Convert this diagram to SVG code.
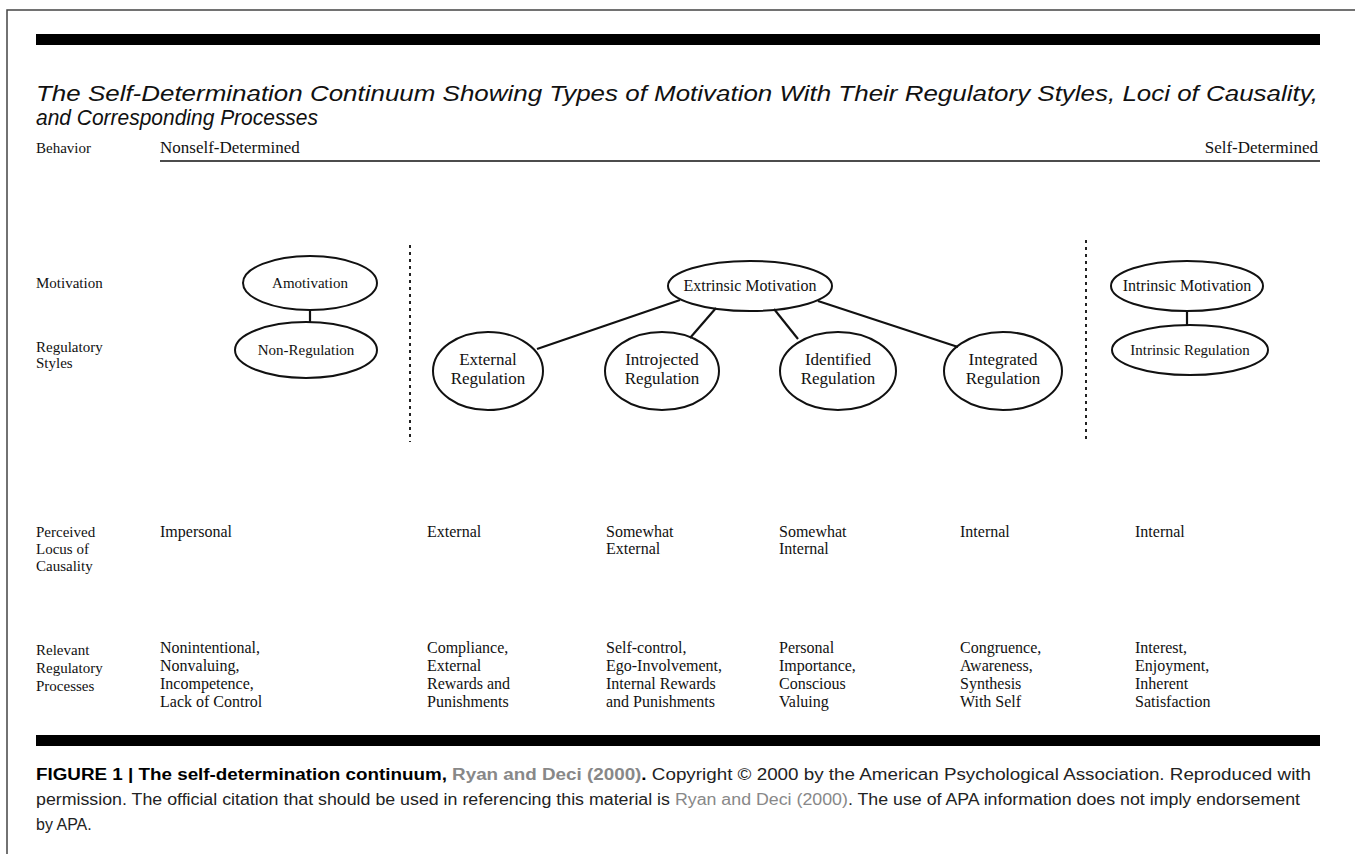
<svg xmlns="http://www.w3.org/2000/svg" width="1355" height="854" viewBox="0 0 1355 854">
<style>
.s{font-family:"Liberation Serif","Times New Roman",serif;font-size:16px;fill:#111}
.big{font-size:17px}
.lab{font-family:"Liberation Serif","Times New Roman",serif;font-size:15px;fill:#111}
.e{font-family:"Liberation Serif","Times New Roman",serif;font-size:15px;fill:#111;text-anchor:middle}
.e16{font-size:16px}
.e2{font-size:17px}
.node ellipse{fill:none;stroke:#111;stroke-width:2}
.conn line{stroke:#111;stroke-width:2.2}
.dash{stroke:#222;stroke-width:2;stroke-dasharray:3 4}
.bar{fill:#000}
.title{font-family:"Liberation Sans",Arial,sans-serif;font-style:italic;font-size:22px;fill:#111}
.cap{font-family:"Liberation Sans",Arial,sans-serif;font-size:16px;fill:#222}
.b{font-weight:bold;fill:#000}
.lnk{font-weight:bold;fill:#888}
.lnk2{fill:#888}
</style>
<rect width="1355" height="854" fill="#fff"/>
<path d="M7 854 V10 H1355" fill="none" stroke="#444" stroke-width="1.5"/>
<rect class="bar" x="36" y="34" width="1284" height="11"/>
<rect class="bar" x="36" y="735" width="1284" height="11"/>

<text class="title" x="36" y="101" textLength="1282" lengthAdjust="spacingAndGlyphs">The Self-Determination Continuum Showing Types of Motivation With Their Regulatory Styles, Loci of Causality,</text>
<text class="title" x="36" y="125" textLength="282" lengthAdjust="spacingAndGlyphs">and Corresponding Processes</text>

<g id="behavior-row">
<text class="lab" x="36" y="153">Behavior</text>
<text class="s big" x="160" y="153">Nonself-Determined</text>
<text class="s big" x="1318" y="153" text-anchor="end">Self-Determined</text>
<line x1="160" y1="161" x2="1320" y2="161" stroke="#111" stroke-width="1.6"/>
</g>

<line class="dash" x1="410" y1="245" x2="410" y2="442"/>
<line class="dash" x1="1086" y1="240" x2="1086" y2="442"/>

<text class="lab" x="36" y="288">Motivation</text>
<text class="lab" x="36" y="352">Regulatory</text>
<text class="lab" x="36" y="368">Styles</text>

<g id="connectors" class="conn">
<line x1="310" y1="310" x2="310" y2="322"/>
<line x1="680" y1="300" x2="537" y2="349"/>
<line x1="716" y1="308" x2="690" y2="338"/>
<line x1="774" y1="309" x2="798" y2="339"/>
<line x1="818" y1="301" x2="958" y2="347"/>
<line x1="1187" y1="311" x2="1187" y2="325"/>
</g>

<g id="amotivation" class="node"><ellipse cx="310" cy="283" rx="67" ry="27"/><text class="e" x="310" y="288">Amotivation</text></g>
<g id="non-regulation" class="node"><ellipse cx="306" cy="350" rx="71" ry="28"/><text class="e" x="306" y="355">Non-Regulation</text></g>
<g id="extrinsic-motivation" class="node"><ellipse cx="750" cy="286" rx="82" ry="25"/><text class="e e16" x="750" y="291">Extrinsic Motivation</text></g>
<g id="external-regulation" class="node"><ellipse cx="488" cy="371" rx="55" ry="39"/><text class="e e2" x="488" y="365">External</text><text class="e e2" x="488" y="384">Regulation</text></g>
<g id="introjected-regulation" class="node"><ellipse cx="662" cy="371" rx="57" ry="39"/><text class="e e2" x="662" y="365">Introjected</text><text class="e e2" x="662" y="384">Regulation</text></g>
<g id="identified-regulation" class="node"><ellipse cx="838" cy="371" rx="58" ry="39"/><text class="e e2" x="838" y="365">Identified</text><text class="e e2" x="838" y="384">Regulation</text></g>
<g id="integrated-regulation" class="node"><ellipse cx="1003" cy="371" rx="59" ry="39"/><text class="e e2" x="1003" y="365">Integrated</text><text class="e e2" x="1003" y="384">Regulation</text></g>
<g id="intrinsic-motivation" class="node"><ellipse cx="1187" cy="286" rx="76" ry="25"/><text class="e e16" x="1187" y="291">Intrinsic Motivation</text></g>
<g id="intrinsic-regulation" class="node"><ellipse cx="1190" cy="350" rx="78" ry="25"/><text class="e" x="1190" y="355">Intrinsic Regulation</text></g>

<g id="locus-row">
<text class="lab" x="36" y="537">Perceived</text>
<text class="lab" x="36" y="554">Locus of</text>
<text class="lab" x="36" y="571">Causality</text>
<text class="s" x="160" y="537">Impersonal</text>
<text class="s" x="427" y="537">External</text>
<text class="s" x="606" y="537">Somewhat</text>
<text class="s" x="606" y="554">External</text>
<text class="s" x="779" y="537">Somewhat</text>
<text class="s" x="779" y="554">Internal</text>
<text class="s" x="960" y="537">Internal</text>
<text class="s" x="1135" y="537">Internal</text>
</g>

<g id="processes-row">
<text class="lab" x="36" y="655">Relevant</text>
<text class="lab" x="36" y="673">Regulatory</text>
<text class="lab" x="36" y="691">Processes</text>
<text class="s" x="160" y="653">Nonintentional,</text>
<text class="s" x="160" y="671">Nonvaluing,</text>
<text class="s" x="160" y="689">Incompetence,</text>
<text class="s" x="160" y="707">Lack of Control</text>
<text class="s" x="427" y="653">Compliance,</text>
<text class="s" x="427" y="671">External</text>
<text class="s" x="427" y="689">Rewards and</text>
<text class="s" x="427" y="707">Punishments</text>
<text class="s" x="606" y="653">Self-control,</text>
<text class="s" x="606" y="671">Ego-Involvement,</text>
<text class="s" x="606" y="689">Internal Rewards</text>
<text class="s" x="606" y="707">and Punishments</text>
<text class="s" x="779" y="653">Personal</text>
<text class="s" x="779" y="671">Importance,</text>
<text class="s" x="779" y="689">Conscious</text>
<text class="s" x="779" y="707">Valuing</text>
<text class="s" x="960" y="653">Congruence,</text>
<text class="s" x="960" y="671">Awareness,</text>
<text class="s" x="960" y="689">Synthesis</text>
<text class="s" x="960" y="707">With Self</text>
<text class="s" x="1135" y="653">Interest,</text>
<text class="s" x="1135" y="671">Enjoyment,</text>
<text class="s" x="1135" y="689">Inherent</text>
<text class="s" x="1135" y="707">Satisfaction</text>
</g>

<g id="caption">
<text class="cap" x="36" y="780" textLength="1275" lengthAdjust="spacingAndGlyphs"><tspan class="b">FIGURE 1 | The self-determination continuum, </tspan><tspan class="lnk">Ryan and Deci (2000)</tspan><tspan class="b">.</tspan> Copyright © 2000 by the American Psychological Association. Reproduced with</text>
<text class="cap" x="36" y="805" textLength="1264" lengthAdjust="spacingAndGlyphs">permission. The official citation that should be used in referencing this material is <tspan class="lnk2">Ryan and Deci (2000)</tspan>. The use of APA information does not imply endorsement</text>
<text class="cap" x="36" y="830">by APA.</text>
</g>
</svg>
